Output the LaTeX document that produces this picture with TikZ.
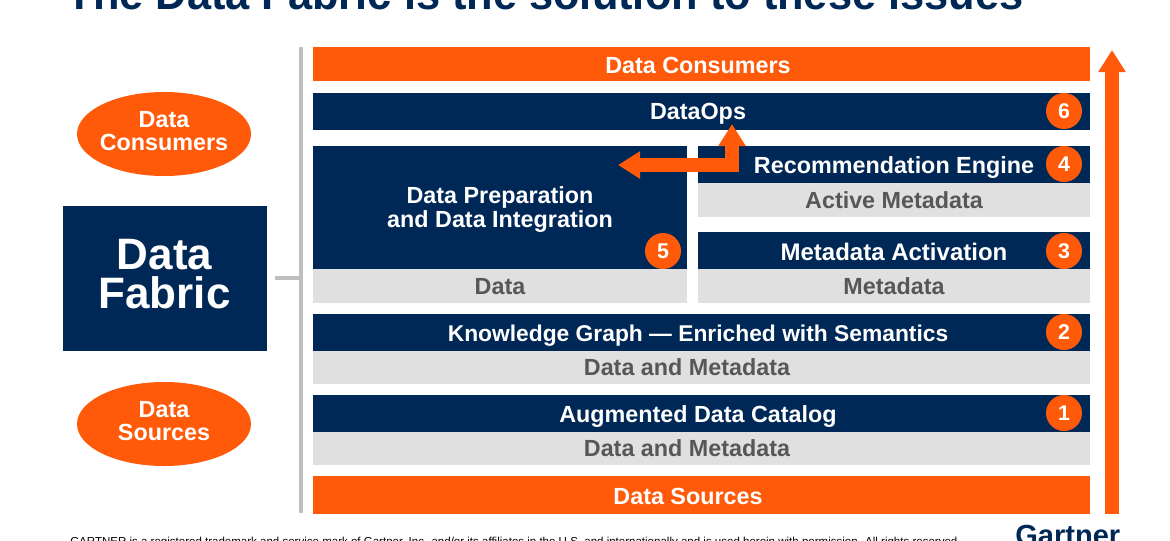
\documentclass[tikz,border=0pt]{standalone}
\usepackage{fontspec}
\setmainfont{Liberation Sans}
\newfontface\titleface[FakeStretch=0.965]{Liberation Sans Bold}
\usetikzlibrary{arrows.meta,shapes.geometric}
\definecolor{navy}{HTML}{002856}
\definecolor{orng}{HTML}{FF5A0A}
\definecolor{pale}{HTML}{E0E0E0}
\definecolor{graytxt}{HTML}{555759}
\definecolor{rule}{HTML}{BFBFBF}
\newcommand{\fs}[2]{\fontsize{#1}{#2}\selectfont}
\newcommand{\barbox}[6]{%
  \pgfmathsetmacro{\bw}{(#4-#2)*0.75}\pgfmathsetmacro{\bh}{(#5-#3)*0.75}%
  \pgfmathsetmacro{\bx}{(#4+#2)/2}\pgfmathsetmacro{\by}{(#5+#3)/2}%
  \node[#6,minimum width=\bw pt,minimum height=\bh pt] (#1) at (\bx,\by) {};}
\tikzset{
  boxbase/.style={rectangle,inner sep=0pt,outer sep=0pt,draw=none},
  orangebar/.style={boxbase,fill=orng},
  navybar/.style={boxbase,fill=navy},
  palebar/.style={boxbase,fill=pale},
  whitetxt/.style={anchor=base,text=white,font=\fs{17.5}{18}\bfseries,inner sep=0pt,align=center},
  graylabel/.style={anchor=base,text=graytxt,font=\fs{17.5}{18}\bfseries,inner sep=0pt,align=center},
  badge/.style={circle,fill=orng,minimum size=27pt,inner sep=0pt,text=white,font=\fs{16}{16}\bfseries},
  blob/.style={ellipse,fill=orng,minimum width=130.5pt,minimum height=63pt,inner sep=0pt},
  rulepath/.style={draw=rule,line width=2.4pt},
  bigarrow/.style={draw=orng,line width=10.5pt,-{Triangle[length=16.5pt,width=19.5pt]}},
  elbow/.style={draw=orng,line width=9.8pt,{Triangle[length=16.5pt,width=19.5pt]}-{Triangle[length=16.5pt,width=19.5pt]}}
}
\begin{document}
\begin{tikzpicture}[x=0.75pt,y=-0.75pt]
\useasboundingbox (0,0) rectangle (1170,540);
\clip (0,0) rectangle (1170,540);
% title and footer (cropped in the reference)
\node[anchor=base west,inner sep=0pt,text=navy,font=\titleface\fs{33.7}{34}] (title) at (66.5,9) {The Data Fabric is the solution to these issues};
\node[anchor=base west,inner sep=0pt,text=black,font=\fs{8.64}{9}] (foot) at (70,545) {GARTNER is a registered trademark and service mark of Gartner, Inc. and/or its affiliates in the U.S. and internationally and is used herein with permission. All rights reserved.};
\node[anchor=base west,inner sep=0pt,text=navy,font=\fs{21.8}{22}\bfseries] (logo) at (1015,545) {Gartner};
% left side
\node[blob] (econs) at (164,134) {};
\node[whitetxt] (econs1) at (164,127) {Data};
\node[whitetxt] (econs2) at (164,150) {Consumers};
\node[blob] (esrc) at (164,424) {};
\node[whitetxt] (esrc1) at (164,417) {Data};
\node[whitetxt] (esrc2) at (164,440) {Sources};
\barbox{fabric}{63}{206}{267}{351}{navybar}
\node[text=white,inner sep=0pt,align=center,font=\fs{33}{29}\bfseries] (fabrictxt) at (164.5,274) {Data\\Fabric};
% gray rule
\coordinate (ruletop) at (301,47);
\coordinate (rulebot) at (301,513);
\coordinate (rulemid) at (301,278);
\coordinate (rulestub) at (275,278);
\draw[rulepath] (ruletop) -- (rulebot);
\draw[rulepath] (rulestub) -- (rulemid);
% bars
\barbox{consbar}{313}{47}{1090}{81}{orangebar}
\node[whitetxt] (constxt) at (698,73) {Data Consumers};
\barbox{opsbar}{313}{93}{1090}{130}{navybar}
\node[whitetxt] (opstxt) at (698,119.5) {DataOps};
\node[badge] (b6) at (1064,111) {6};
\barbox{prepbar}{313}{146}{687}{269}{navybar}
\node[whitetxt] (prep1) at (500,203) {Data Preparation};
\node[whitetxt] (prep2) at (500,227) {and Data Integration};
\node[badge] (b5) at (663,251) {5};
\barbox{datab}{313}{269}{687}{303}{palebar}
\node[graylabel] (datatxt) at (500,294) {Data};
\barbox{recbar}{698}{146}{1090}{183}{navybar}
\node[whitetxt] (rectxt) at (894,173) {Recommendation Engine};
\node[badge] (b4) at (1064,164) {4};
\barbox{actb}{698}{183}{1090}{217}{palebar}
\node[graylabel] (acttxt) at (894,208) {Active Metadata};
\barbox{metabar}{698}{232}{1090}{269}{navybar}
\node[whitetxt,font=\fs{18}{18}\bfseries] (metatxt) at (894,260) {Metadata Activation};
\node[badge] (b3) at (1064,251) {3};
\barbox{metab}{698}{269}{1090}{303}{palebar}
\node[graylabel] (metabt) at (894,294) {Metadata};
\barbox{kgbar}{313}{314}{1090}{351}{navybar}
\node[whitetxt,font=\fs{17.1}{18}\bfseries] (kgtxt) at (698,341) {Knowledge Graph — Enriched with Semantics};
\node[badge] (b2) at (1064,332) {2};
\barbox{kgb}{313}{351}{1090}{384}{palebar}
\node[graylabel] (kgbt) at (687,375) {Data and Metadata};
\barbox{catbar}{313}{395}{1090}{432}{navybar}
\node[whitetxt] (cattxt) at (698,422) {Augmented Data Catalog};
\node[badge] (b1) at (1064,413) {1};
\barbox{catb}{313}{432}{1090}{465}{palebar}
\node[graylabel] (catbt) at (687,456) {Data and Metadata};
\barbox{srcbar}{313}{476}{1090}{514}{orangebar}
\node[whitetxt] (srctxt) at (688,504) {Data Sources};
% arrows
\coordinate (uptail) at (1112,514);
\coordinate (uptip) at (1112,50);
\draw[bigarrow] (uptail) -- (uptip);
\coordinate (elbowl) at (618,165);
\coordinate (elbowc) at (732,165);
\coordinate (elbowu) at (732,124);
\draw[elbow] (elbowl) -- (elbowc) -- (elbowu);
\end{tikzpicture}
\end{document}
